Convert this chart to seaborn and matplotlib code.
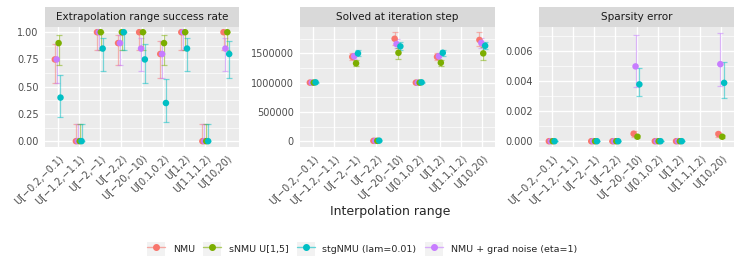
import numpy as np
import pandas as pd
import seaborn as sns
import matplotlib.pyplot as plt
from matplotlib.lines import Line2D
from matplotlib.patches import Rectangle
from matplotlib.legend_handler import HandlerTuple
from matplotlib.ticker import MultipleLocator, FormatStrFormatter

sns.set_style('darkgrid')
plt.rcParams['font.family'] = ['DejaVu Sans']

ranges = ['U[\u22120.2,\u22120.1)', 'U[\u22121.2,\u22121.1)', 'U[\u22122,\u22121)', 'U[\u22122,2)',
          'U[\u221220,\u221210)', 'U[0.1,0.2)', 'U[1,2)', 'U[1.1,1.2)', 'U[10,20)']
models = ['NMU', 'sNMU U[1,5]', 'stgNMU (lam=0.01)', 'NMU + grad noise (eta=1)']
colors = ['#F8766D', '#7CAE00', '#00BFC4', '#C77CFF']
dodge_order = ['NMU', 'NMU + grad noise (eta=1)', 'sNMU U[1,5]', 'stgNMU (lam=0.01)']
nan = np.nan

# success rate (value, lower, upper)
success = {
    'NMU': [0.75, 0.0, 1.0, 0.9, 1.0, 0.8, 1.0, 0.0, 1.0],
    'sNMU U[1,5]': [0.9, 0.0, 1.0, 1.0, 1.0, 0.9, 1.0, 0.0, 1.0],
    'stgNMU (lam=0.01)': [0.4, 0.0, 0.85, 1.0, 0.75, 0.35, 0.85, 0.0, 0.8],
    'NMU + grad noise (eta=1)': [0.75, 0.0, 1.0, 0.9, 0.85, 0.8, 1.0, 0.0, 0.85],
}
success_lo = {
    'NMU': [0.53, 0.0, 0.84, 0.70, 0.84, 0.58, 0.84, 0.0, 0.84],
    'sNMU U[1,5]': [0.70, 0.0, 0.84, 0.84, 0.84, 0.70, 0.84, 0.0, 0.84],
    'stgNMU (lam=0.01)': [0.22, 0.0, 0.64, 0.84, 0.53, 0.18, 0.64, 0.0, 0.58],
    'NMU + grad noise (eta=1)': [0.53, 0.0, 0.84, 0.70, 0.64, 0.58, 0.84, 0.0, 0.64],
}
success_hi = {
    'NMU': [0.89, 0.16, 1.0, 0.97, 1.0, 0.92, 1.0, 0.16, 1.0],
    'sNMU U[1,5]': [0.97, 0.16, 1.0, 1.0, 1.0, 0.97, 1.0, 0.16, 1.0],
    'stgNMU (lam=0.01)': [0.61, 0.16, 0.95, 1.0, 0.89, 0.57, 0.95, 0.16, 0.92],
    'NMU + grad noise (eta=1)': [0.89, 0.16, 1.0, 0.97, 0.95, 0.92, 1.0, 0.16, 0.95],
}

# solved at iteration step
solved = {
    'NMU': [1000000, nan, 1440000, 5000, 1750000, 1000000, 1440000, nan, 1730000],
    'sNMU U[1,5]': [1000000, nan, 1330000, 5000, 1510000, 1000000, 1340000, nan, 1500000],
    'stgNMU (lam=0.01)': [1005000, nan, 1500000, 8000, 1620000, 1005000, 1510000, nan, 1630000],
    'NMU + grad noise (eta=1)': [1000000, nan, 1450000, 5000, 1660000, 1000000, 1450000, nan, 1680000],
}
solved_lo = {
    'NMU': [995000, nan, 1390000, 0, 1640000, 995000, 1390000, nan, 1620000],
    'sNMU U[1,5]': [995000, nan, 1290000, 0, 1400000, 995000, 1290000, nan, 1390000],
    'stgNMU (lam=0.01)': [1000000, nan, 1460000, 0, 1560000, 1000000, 1460000, nan, 1570000],
    'NMU + grad noise (eta=1)': [995000, nan, 1400000, 0, 1590000, 995000, 1400000, nan, 1600000],
}
solved_hi = {
    'NMU': [1005000, nan, 1500000, 12000, 1870000, 1005000, 1500000, nan, 1860000],
    'sNMU U[1,5]': [1005000, nan, 1380000, 12000, 1600000, 1005000, 1390000, nan, 1610000],
    'stgNMU (lam=0.01)': [1010000, nan, 1550000, 15000, 1690000, 1010000, 1560000, nan, 1700000],
    'NMU + grad noise (eta=1)': [1005000, nan, 1500000, 12000, 1740000, 1005000, 1500000, nan, 1770000],
}

# sparsity error
sparsity = {
    'NMU': [0.0, nan, 0.0, 0.0, 0.0005, 0.0, 0.0, nan, 0.00048],
    'sNMU U[1,5]': [0.0, nan, 0.0, 0.0, 0.0003, 0.0, 0.0, nan, 0.0003],
    'stgNMU (lam=0.01)': [0.0, nan, 0.0, 0.0, 0.0038, 0.0, 0.0, nan, 0.0039],
    'NMU + grad noise (eta=1)': [0.0, nan, 0.0, 0.0, 0.0050, 0.0, 0.0, nan, 0.00515],
}
sparsity_lo = {
    'NMU': [0.0, nan, 0.0, 0.0, 0.0003, 0.0, 0.0, nan, 0.0003],
    'sNMU U[1,5]': [0.0, nan, 0.0, 0.0, 0.0002, 0.0, 0.0, nan, 0.0002],
    'stgNMU (lam=0.01)': [0.0, nan, 0.0, 0.0, 0.0030, 0.0, 0.0, nan, 0.0029],
    'NMU + grad noise (eta=1)': [0.0, nan, 0.0, 0.0, 0.0036, 0.0, 0.0, nan, 0.0037],
}
sparsity_hi = {
    'NMU': [0.00002, nan, 0.00002, 0.00002, 0.0007, 0.00002, 0.00002, nan, 0.0006],
    'sNMU U[1,5]': [0.00002, nan, 0.00002, 0.00002, 0.0004, 0.00002, 0.00002, nan, 0.0004],
    'stgNMU (lam=0.01)': [0.00002, nan, 0.00002, 0.00002, 0.0049, 0.00002, 0.00002, nan, 0.0053],
    'NMU + grad noise (eta=1)': [0.00002, nan, 0.00002, 0.00002, 0.0071, 0.00002, 0.00002, nan, 0.0072],
}

panels = [
    ('Extrapolation range success rate', success, success_lo, success_hi),
    ('Solved at iteration step', solved, solved_lo, solved_hi),
    ('Sparsity error', sparsity, sparsity_lo, sparsity_hi),
]

rows = []
for title, val, lo, hi in panels:
    for m in models:
        for i, r in enumerate(ranges):
            rows.append(dict(panel=title, model=m, range=r, idx=i,
                             value=val[m][i], lo=lo[m][i], hi=hi[m][i]))
df = pd.DataFrame(rows)
offsets = dict(zip(dodge_order, [-0.135, -0.045, 0.045, 0.135]))
df['x'] = df['idx'] + df['model'].map(offsets)
palette = dict(zip(models, colors))

fig, axes = plt.subplots(1, 3, figsize=(7.47, 2.73), dpi=100)
fig.subplots_adjust(left=0.06, right=0.983, top=0.902, bottom=0.463, wspace=0.3)
pos = [(45, 239), (300, 495), (539, 734)]
for ax, (x0, x1) in zip(axes, pos):
    b = ax.get_position()
    ax.set_position([x0 / 747, b.y0, (x1 - x0) / 747, b.height])

ylims = [(-0.05, 1.05), (-93500, 1.955e6), (-0.00036, 0.00765)]
majors = [0.25, 500000, 0.002]
fmts = ['%.2f', '%d', '%.3f']

for ax, (title, *_), yl, mj, fm in zip(axes, panels, ylims, majors, fmts):
    sub = df[(df['panel'] == title) & df['value'].notna()]
    ax.set_facecolor('#EBEBEB')
    for m in dodge_order:
        s = sub[sub['model'] == m]
        ax.errorbar(s['x'], s['value'], yerr=[s['value'] - s['lo'], s['hi'] - s['value']],
                    fmt='none', ecolor=palette[m], alpha=0.5, elinewidth=0.9,
                    capsize=2, capthick=0.9, zorder=2)
    for m in dodge_order:
        sns.scatterplot(data=sub[sub['model'] == m], x='x', y='value', color=palette[m],
                        s=22, edgecolor='none', ax=ax, zorder=3, legend=False)
    ax.set_xlim(-0.6, len(ranges) - 0.4)
    ax.set_ylim(*yl)
    ax.set_xticks(range(len(ranges)))
    ax.set_xticklabels(ranges, rotation=45, ha='right', rotation_mode='anchor', fontsize=7, color='#4D4D4D')
    ax.yaxis.set_major_locator(MultipleLocator(mj))
    ax.yaxis.set_minor_locator(MultipleLocator(mj / 2))
    ax.yaxis.set_major_formatter(FormatStrFormatter(fm))
    ax.tick_params(axis='y', labelsize=7, labelcolor='#4D4D4D')
    ax.tick_params(which='major', length=2.5, width=0.8, color='#333333', pad=2)
    ax.tick_params(which='minor', length=0)
    ax.grid(which='major', color='white', linewidth=1.0)
    ax.grid(which='minor', axis='y', color='white', linewidth=0.5)
    ax.set_axisbelow(True)
    for sp in ax.spines.values():
        sp.set_visible(False)
    ax.set_xlabel('')
    ax.set_ylabel('')
    # facet strip
    h = ax.get_position().height * 273
    strip = Rectangle((0, 1.0), 1, 20 / h, transform=ax.transAxes,
                      facecolor='#D9D9D9', edgecolor='none', clip_on=False, zorder=0)
    ax.add_patch(strip)
    ax.text(0.5, 1.0 + 10 / h, title, transform=ax.transAxes, ha='center', va='center',
            fontsize=7.5, color='#1A1A1A')

fig.text(390 / 747, 1 - 212 / 273, 'Interpolation range', ha='center', va='center', fontsize=9)

handles = [(Rectangle((0, 0), 1, 1, facecolor='#F2F2F2', edgecolor='none'),
            Line2D([], [], color=c, linewidth=1, alpha=0.6),
            Line2D([], [], color=c, marker='o', markersize=4, linewidth=0))
           for c in colors]
fig.legend(handles, models, handler_map={tuple: HandlerTuple(ndivide=1, pad=0)},
           loc='center', bbox_to_anchor=(362 / 747, 1 - 249 / 273), ncol=4, frameon=False,
           fontsize=6.8, handlelength=1.9, handleheight=1.8, handletextpad=0.8, columnspacing=0.9,
           numpoints=1)

plt.savefig('out.png', dpi=100)
